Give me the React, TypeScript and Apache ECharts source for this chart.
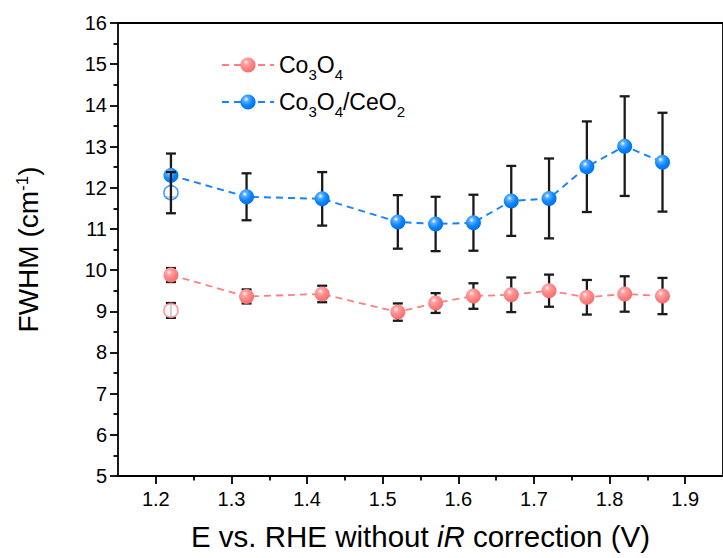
import React, { useEffect, useRef } from "react";
import * as echarts from "echarts";

const xFilled = [1.22, 1.32, 1.42, 1.52, 1.57, 1.62, 1.67, 1.72, 1.77, 1.82, 1.87];
const co3o4 = [9.88, 9.36, 9.42, 8.98, 9.2, 9.37, 9.4, 9.5, 9.34, 9.42, 9.37];
const co3o4Err = [0.17, 0.17, 0.2, 0.21, 0.24, 0.31, 0.42, 0.39, 0.42, 0.43, 0.44];
const ceo2 = [12.3, 11.78, 11.73, 11.17, 11.12, 11.15, 11.68, 11.74, 12.51, 13.01, 12.62];
const ceo2Err = [0.53, 0.57, 0.65, 0.65, 0.66, 0.68, 0.85, 0.97, 1.1, 1.21, 1.2];
const xOpen = [1.22];
const co3o4Open = [9.02];
const co3o4OpenErr = [0.18];
const ceo2Open = [11.88];
const ceo2OpenErr = [0.5];
const xTicks = [1.2, 1.3, 1.4, 1.5, 1.6, 1.7, 1.8, 1.9];
const xMinor = [1.25, 1.35, 1.45, 1.55, 1.65, 1.75, 1.85];

const RED = "#ff7f7f";
const BLUE = "#1683ff";

const grad = (hi: string, mid: string, edge: string) => ({
  type: "radial",
  x: 0.38,
  y: 0.32,
  r: 0.72,
  colorStops: [
    { offset: 0, color: "#ffffff" },
    { offset: 0.22, color: hi },
    { offset: 0.6, color: mid },
    { offset: 1, color: edge },
  ],
});

const errData = (xs: number[], ys: number[], es: number[]) =>
  xs.map((x, i) => [x, ys[i] - es[i], ys[i] + es[i]]);

const renderErr = (params: any, api: any) => {
  const x = api.value(0);
  const lo = api.value(1);
  const hi = api.value(2);
  const p1 = api.coord([x, hi]);
  const p2 = api.coord([x, lo]);
  const w = 5;
  const style = { stroke: "#1a1a1a", lineWidth: 2.3 };
  return {
    type: "group",
    children: [
      { type: "line", shape: { x1: p1[0], y1: p1[1], x2: p2[0], y2: p2[1] }, style },
      { type: "line", shape: { x1: p1[0] - w, y1: p1[1], x2: p1[0] + w, y2: p1[1] }, style },
      { type: "line", shape: { x1: p2[0] - w, y1: p2[1], x2: p2[0] + w, y2: p2[1] }, style },
    ],
  };
};

export default function App() {
  const ref = useRef<HTMLDivElement>(null);
  useEffect(() => {
    if (!ref.current) return;
    const chart = echarts.init(ref.current, null, { renderer: "svg" });
    const font = "'Liberation Sans', Arial, sans-serif";
    const axisLineStyle = { color: "#000", width: 1.8 };
    chart.setOption({
      animation: false,
      backgroundColor: "#fff",
      textStyle: { fontFamily: font },
      grid: { left: 118, top: 23, width: 610, height: 453 },
      legend: {
        orient: "vertical",
        left: 216,
        top: 43,
        itemWidth: 52,
        itemHeight: 19,
        itemGap: 3,
        data: ["Co3O4", "Co3O4/CeO2"],
        formatter: (name: string) =>
          name === "Co3O4" ? "Co{s|3}O{s|4}" : "Co{s|3}O{s|4}/CeO{s|2}",
        textStyle: {
          fontSize: 23,
          lineHeight: 34,
          color: "#000",
          fontFamily: font,
          rich: {
            s: { fontSize: 15, lineHeight: 14, fontFamily: font, verticalAlign: "bottom" },
          },
        },
      },
      xAxis: [
        {
          type: "value",
          min: 1.15,
          max: 1.95,
          position: "bottom",
          axisLine: { show: true, onZero: false, lineStyle: axisLineStyle },
          axisTick: { show: true, length: 8, customValues: xTicks, lineStyle: axisLineStyle },
          axisLabel: {
            customValues: xTicks,
            formatter: (v: number) => v.toFixed(1),
            fontSize: 20,
            color: "#000",
            margin: 13,
            fontFamily: font,
          },
          splitLine: { show: false },
          name: "E vs. RHE without {i|iR} correction (V)",
          nameLocation: "middle",
          nameGap: 45,
          nameTextStyle: {
            fontSize: 29.5,
            color: "#000",
            fontFamily: font,
            rich: { i: { fontSize: 29.5, fontStyle: "italic", fontFamily: font } },
          },
        },
        {
          type: "value",
          min: 1.15,
          max: 1.95,
          position: "bottom",
          axisLine: { show: false, onZero: false },
          axisTick: { show: true, length: 4.5, customValues: xMinor, lineStyle: axisLineStyle },
          axisLabel: { show: false },
          splitLine: { show: false },
        },
        {
          type: "value",
          min: 1.15,
          max: 1.95,
          position: "top",
          axisLine: { show: true, onZero: false, lineStyle: axisLineStyle },
          axisTick: { show: false },
          axisLabel: { show: false },
          splitLine: { show: false },
        },
      ],
      yAxis: [
        {
          type: "value",
          min: 5,
          max: 16,
          interval: 1,
          position: "left",
          axisLine: { show: true, onZero: false, lineStyle: axisLineStyle },
          axisTick: { show: true, length: 8, lineStyle: axisLineStyle },
          minorTick: { show: true, splitNumber: 2, length: 4.5, lineStyle: axisLineStyle },
          axisLabel: { fontSize: 20, color: "#000", margin: 11, fontFamily: font },
          splitLine: { show: false },
          name: "FWHM (cm{sup|-1})",
          nameLocation: "middle",
          nameGap: 76,
          nameTextStyle: {
            fontSize: 28,
            color: "#000",
            fontFamily: font,
            rich: {
              sup: { fontSize: 17, fontFamily: font, verticalAlign: "top", padding: [0, 0, 10, 0] },
            },
          },
        },
        {
          type: "value",
          min: 5,
          max: 16,
          position: "right",
          axisLine: { show: true, onZero: false, lineStyle: axisLineStyle },
          axisTick: { show: false },
          axisLabel: { show: false },
          splitLine: { show: false },
        },
      ],
      series: [
        {
          type: "custom",
          name: "errRed",
          renderItem: renderErr,
          data: errData(xFilled, co3o4, co3o4Err),
          z: 2,
          silent: true,
        },
        {
          type: "custom",
          name: "errBlue",
          renderItem: renderErr,
          data: errData(xFilled, ceo2, ceo2Err),
          z: 2,
          silent: true,
        },
        {
          type: "custom",
          name: "errRedOpen",
          renderItem: renderErr,
          data: errData(xOpen, co3o4Open, co3o4OpenErr),
          z: 2,
          silent: true,
        },
        {
          type: "line",
          name: "Co3O4",
          data: xFilled.map((x, i) => [x, co3o4[i]]),
          symbol: "circle",
          symbolSize: 15,
          showSymbol: true,
          lineStyle: { color: RED, width: 1.8, type: [7, 5] },
          itemStyle: { color: grad("#ffa4a4", "#ff8282", "#f46a6a") },
          z: 3,
        },
        {
          type: "line",
          name: "Co3O4/CeO2",
          data: xFilled.map((x, i) => [x, ceo2[i]]),
          symbol: "circle",
          symbolSize: 15,
          showSymbol: true,
          lineStyle: { color: BLUE, width: 2, type: [7, 5] },
          itemStyle: { color: grad("#5aaeff", "#0a84ff", "#006ee6") },
          z: 3,
        },
        {
          type: "scatter",
          name: "openRed",
          data: xOpen.map((x, i) => [x, co3o4Open[i]]),
          symbol: "circle",
          symbolSize: 14,
          itemStyle: { color: "#ffffff", borderColor: RED, borderWidth: 1.6 },
          z: 3,
        },
        {
          type: "scatter",
          name: "openBlue",
          data: xOpen.map((x, i) => [x, ceo2Open[i]]),
          symbol: "circle",
          symbolSize: 14,
          itemStyle: { color: "#ffffff", borderColor: BLUE, borderWidth: 1.6 },
          z: 3,
        },
        {
          type: "custom",
          name: "errBlueOpen",
          renderItem: renderErr,
          data: errData(xOpen, ceo2Open, ceo2OpenErr),
          z: 4,
          silent: true,
        },
      ],
    });
    return () => chart.dispose();
  }, []);
  return (
    <div
      ref={ref}
      style={{ position: "fixed", left: 0, top: 0, width: 723, height: 558, background: "#fff" }}
    />
  );
}
